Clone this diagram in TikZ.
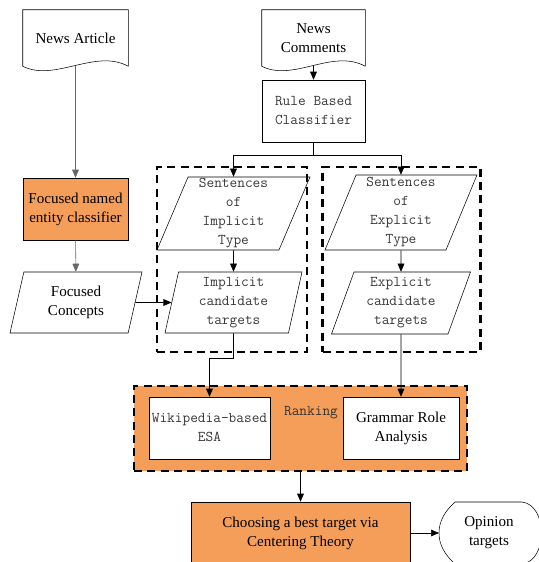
\documentclass[tikz,border=0pt]{standalone}
\usepackage{fontspec}
\setmainfont{Liberation Serif}
\usetikzlibrary{shapes.geometric,arrows.meta}
\definecolor{boxorange}{RGB}{245,158,90}
\newcommand{\px}{0.75pt}
\begin{document}
\begin{tikzpicture}[x=\px, y=-\px, >={Triangle[width=5pt,length=6pt]},
    every node/.style={font=\fontsize{11.3}{14.25}\selectfont},
    mono/.style={font=\fontsize{11.2}{14.25}\selectfont\ttfamily, text=black!78},
    box/.style={draw, inner sep=0pt, align=center, minimum height=62*\px},
    doc/.style={inner sep=0pt, align=center, minimum height=56*\px},
    para/.style={draw, shape=trapezium, trapezium stretches body, inner sep=0pt, align=center},
    dashbox/.style={draw, line width=1.8pt, dash pattern=on 6pt off 4pt, inner sep=0pt},
    greyline/.style={draw=black!60}]
  \useasboundingbox (0,0) rectangle (539,562);
  % left column
  \node[doc, minimum width=105*\px] (article) at (75.5,38) {News Article};
  \draw (article.south east) -- (article.north east) -- (article.north west) -- (article.south west)
    .. controls +(32,16) and +(-33,-18) .. (article.south east);
  \node[box, fill=boxorange, minimum width=105*\px] (fnec) at (75.5,209) {Focused named\\entity classifier};
  \node[para, minimum width=132*\px, minimum height=61*\px,
    trapezium left angle=67, trapezium right angle=113] (concepts) at (76,302.5) {Focused\\Concepts};
  % comments and classifier
  \node[doc, minimum width=103*\px] (comments) at (313.5,38) {News\\Comments};
  \draw (comments.south east) -- (comments.north east) -- (comments.north west) -- (comments.south west)
    .. controls +(32,16) and +(-33,-18) .. (comments.south east);
  \node[box, mono, minimum width=103*\px] (rule) at (313.5,111) {Rule Based\\Classifier};
  \coordinate (split) at (313.5,155);
  % implicit / explicit groups
  \node[dashbox, minimum width=150*\px, minimum height=185*\px] (impgroup) at (232,259.5) {};
  \node[dashbox, minimum width=158*\px, minimum height=185*\px] (expgroup) at (401.5,259.5) {};
  \node[para, mono, minimum width=153*\px, minimum height=73*\px,
    trapezium left angle=66, trapezium right angle=114] (impsent) at (233.5,213.5) {Sentences\\of\\Implicit\\Type};
  \node[para, mono, minimum width=137*\px, minimum height=61*\px,
    trapezium left angle=75, trapezium right angle=105] (impcand) at (233.5,302.5) {Implicit\\candidate\\targets};
  \node[para, mono, minimum width=152*\px, minimum height=75*\px,
    trapezium left angle=66, trapezium right angle=114] (expsent) at (401,212.5) {Sentences\\of\\Explicit\\Type};
  \node[para, mono, minimum width=139*\px, minimum height=62*\px,
    trapezium left angle=66, trapezium right angle=114] (expcand) at (401,303) {Explicit\\candidate\\targets};
  \coordinate (bend) at (233.5,358);
  % ranking
  \node[dashbox, fill=boxorange, minimum width=333*\px, minimum height=85*\px] (ranking) at (300.5,428.5) {};
  \node[mono, text=black!80] (rlabel) at (311,413) {Ranking};
  \node[box, mono, fill=white, minimum width=121*\px] (wiki) at (209.5,428) {Wikipedia-based\\ESA};
  \node[box, fill=white, minimum width=116*\px] (gra) at (401,428) {Grammar Role\\Analysis};
  \node[box, fill=boxorange, minimum width=219*\px] (choose) at (300.5,533) {Choosing a best target via\\Centering Theory};
  \node[inner sep=0pt, align=center] (opinion) at (489,533) {Opinion\\targets};
  \coordinate (optip) at (439,533);
  \draw (455,502) -- (522,502) .. controls (548,505) and (548,561) .. (522,564) -- (455,564)
    .. controls (445,555) and (439,545) .. (optip) .. controls (439,521) and (445,511) .. (455,502);
  % connectors
  \draw[->, greyline] (article) -- (fnec);
  \draw[->, greyline] (fnec) -- (concepts);
  \draw[->] (concepts) -- (impcand);
  \draw[->] (comments) -- (rule);
  \draw (rule) -- (split);
  \draw[->] (split) -| (impsent);
  \draw[->] (split) -| (expsent);
  \draw[->] (impsent) -- (impcand);
  \draw[->] (expsent) -- (expcand);
  \draw (impcand) -- (bend);
  \draw[->] (bend) -| (wiki);
  \draw[->] (expcand) -- (gra);
  \draw[->] (ranking) -- (choose);
  \draw[->] (choose) -- (optip);
\end{tikzpicture}
\end{document}
